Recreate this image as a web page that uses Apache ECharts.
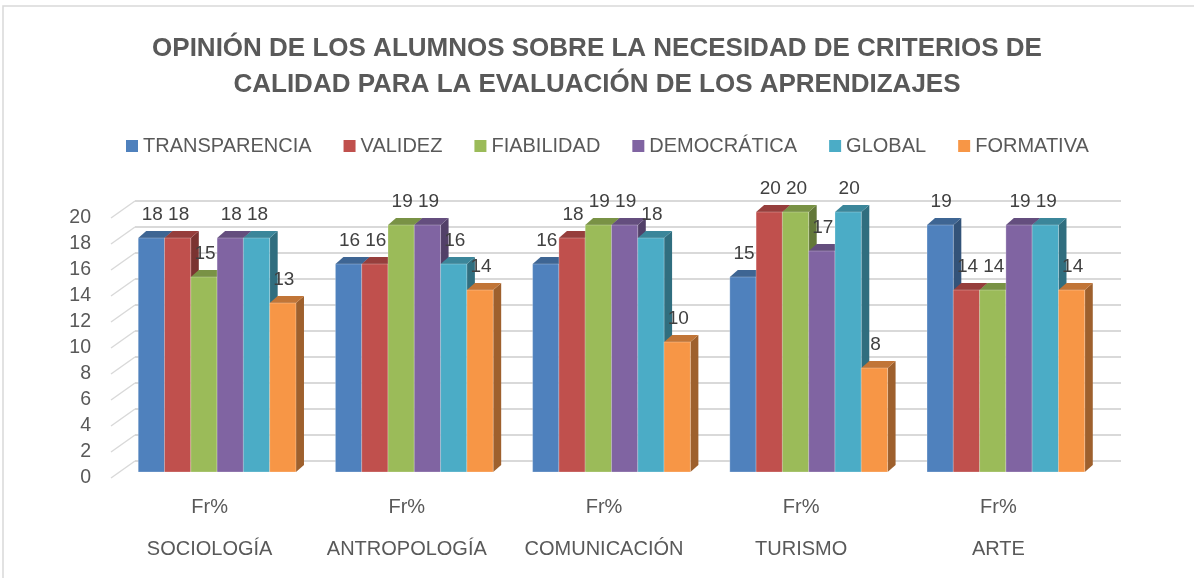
<!DOCTYPE html>
<html>
<head>
<meta charset="utf-8">
<script src="https://cdn.jsdelivr.net/npm/echarts@6/dist/echarts.min.js"></script>
<style>
html, body { margin: 0; padding: 0; background: #fff; }
#chart { width: 1194px; height: 578px; }
</style>
</head>
<body>
<div id="chart"></div>
<script>
// datos del gráfico
const carreras = ['SOCIOLOGÍA', 'ANTROPOLOGÍA', 'COMUNICACIÓN', 'TURISMO', 'ARTE']
const criterios = ['TRANSPARENCIA', 'VALIDEZ', 'FIABILIDAD', 'DEMOCRÁTICA', 'GLOBAL', 'FORMATIVA']
const transparencia = [18, 16, 16, 15, 19]
const validez = [18, 16, 18, 20, 14]
const fiabilidad = [15, 19, 19, 20, 14]
const democratica = [18, 19, 19, 17, 19]
const global = [18, 16, 18, 20, 19]
const formativa = [13, 14, 10, 8, 14]
const ticks = [0, 2, 4, 6, 8, 10, 12, 14, 16, 18, 20]

const valores = [transparencia, validez, fiabilidad, democratica, global, formativa]
const colores = ['#4F81BD', '#C0504D', '#9BBB59', '#8064A2', '#4BACC6', '#F79646']

const font = "'Liberation Sans', Arial, sans-serif"
const textColor = '#595959'

// oscurecer color para las caras 3D
const shade = (hex, k) => {
  const n = parseInt(hex.slice(1), 16)
  const r = Math.round(((n >> 16) & 255) * k)
  const g = Math.round(((n >> 8) & 255) * k)
  const b = Math.round((n & 255) * k)
  return `rgb(${r},${g},${b})`
}

const DX = 8
const DY = 7

// barra 3D: cara lateral, superior y frontal
const renderBar = (si) => (params, api) => {
  const cat = api.value(0)
  const val = api.value(1)
  const p0 = api.coord([cat, 0])
  const p1 = api.coord([cat, val])
  const bw = api.size([1, 0])[0] * 0.8 / 6
  const x = p0[0] - 3 * bw + si * bw
  const yb = p0[1]
  const yt = p1[1]
  const c = colores[si]
  return {
    type: 'group',
    children: [
      {
        type: 'polygon',
        shape: { points: [[x + bw, yt], [x + bw + DX, yt - DY], [x + bw + DX, yb - DY], [x + bw, yb]] },
        style: { fill: shade(c, 0.64) }
      },
      {
        type: 'polygon',
        shape: { points: [[x, yt], [x + DX, yt - DY], [x + bw + DX, yt - DY], [x + bw, yt]] },
        style: { fill: shade(c, 0.78) }
      },
      {
        type: 'rect',
        shape: { x: x, y: yt, width: bw, height: yb - yt },
        style: { fill: c, stroke: 'rgba(255,255,255,0.25)', lineWidth: 1 }
      }
    ]
  }
}

const barSeries = criterios.map((name, si) => ({
  name,
  type: 'custom',
  xAxisIndex: 0,
  yAxisIndex: 0,
  itemStyle: { color: colores[si] },
  renderItem: renderBar(si),
  data: valores[si].map((v, ci) => [ci, v])
}))

// etiquetas de datos
const labelData = []
valores.forEach((arr, si) => arr.forEach((v, ci) => labelData.push([ci, si, v])))

const labelSeries = {
  type: 'custom',
  xAxisIndex: 0,
  yAxisIndex: 0,
  z: 10,
  encode: { x: 0, y: 2 },
  renderItem: (params, api) => {
    const cat = api.value(0)
    const si = api.value(1)
    const val = api.value(2)
    const p0 = api.coord([cat, 0])
    const p1 = api.coord([cat, val])
    const bw = api.size([1, 0])[0] * 0.8 / 6
    const x = p0[0] - 3 * bw + si * bw + bw / 2 + 1
    return {
      type: 'text',
      style: {
        text: String(val),
        x: x,
        y: p1[1] - 23,
        align: 'center',
        verticalAlign: 'middle',
        fontSize: 19,
        fontFamily: font,
        fill: '#404040'
      }
    }
  },
  data: labelData
}

// líneas diagonales de la pared del fondo al borde del suelo
const diagSeries = {
  type: 'custom',
  xAxisIndex: 2,
  yAxisIndex: 2,
  z: 1,
  silent: true,
  renderItem: (params, api) => {
    const p = api.coord([0, api.value(1)])
    return {
      type: 'line',
      shape: { x1: p[0], y1: p[1], x2: p[0] - 24, y2: p[1] + 17 },
      style: { stroke: '#d9d9d9', lineWidth: 1.5 }
    }
  },
  data: ticks.map((t) => [0, t])
}

const chart = echarts.init(document.getElementById('chart'))
chart.setOption({
  animation: false,
  color: colores,
  title: {
    text: 'OPINIÓN DE LOS ALUMNOS SOBRE LA NECESIDAD DE CRITERIOS DE\nCALIDAD PARA LA EVALUACIÓN DE LOS APRENDIZAJES',
    left: 'center',
    top: 26,
    textStyle: {
      fontFamily: font,
      fontWeight: 'bold',
      fontSize: 26,
      lineHeight: 36,
      color: textColor
    }
  },
  legend: {
    data: criterios,
    left: 121,
    top: 131,
    icon: 'rect',
    itemWidth: 12,
    itemHeight: 12,
    itemGap: 32,
    textStyle: { fontFamily: font, fontSize: 20, color: textColor }
  },
  graphic: [
    {
      type: 'rect',
      shape: { x: 3, y: 6, width: 1200, height: 600 },
      style: { fill: 'none', stroke: '#d9d9d9', lineWidth: 1.5 },
      silent: true
    }
  ],
  grid: [
    // plano frontal de las barras
    { left: 118.5, right: 89.5, top: 212, bottom: 106 },
    // borde frontal del suelo (etiquetas de los ejes)
    { left: 111, right: 97, top: 218, bottom: 100 },
    // pared del fondo (líneas de división)
    { left: 135, right: 73, top: 201, bottom: 117 }
  ],
  xAxis: [
    { gridIndex: 0, type: 'category', data: carreras, show: false },
    {
      gridIndex: 1,
      type: 'category',
      data: carreras,
      axisLine: { show: false },
      axisTick: { show: false },
      axisLabel: {
        margin: 8,
        formatter: (v) => `{a|Fr%}\n{b|${v}}`,
        rich: {
          a: { fontFamily: font, fontSize: 20, lineHeight: 42, color: textColor },
          b: { fontFamily: font, fontSize: 20, lineHeight: 42, color: textColor }
        }
      }
    },
    { gridIndex: 2, type: 'value', min: 0, max: 1, show: false }
  ],
  yAxis: [
    { gridIndex: 0, type: 'value', min: 0, max: 20, interval: 2, show: false },
    {
      gridIndex: 1,
      type: 'value',
      min: 0,
      max: 20,
      interval: 2,
      axisLine: { show: false },
      axisTick: { show: false },
      splitLine: { show: false },
      axisLabel: { margin: 20, fontFamily: font, fontSize: 19.5, color: textColor }
    },
    {
      gridIndex: 2,
      type: 'value',
      min: 0,
      max: 20,
      interval: 2,
      axisLine: { show: false },
      axisTick: { show: false },
      axisLabel: { show: false },
      splitLine: { lineStyle: { color: '#d9d9d9', width: 2 } }
    }
  ],
  series: [diagSeries, ...barSeries, labelSeries]
})
</script>
</body>
</html>
